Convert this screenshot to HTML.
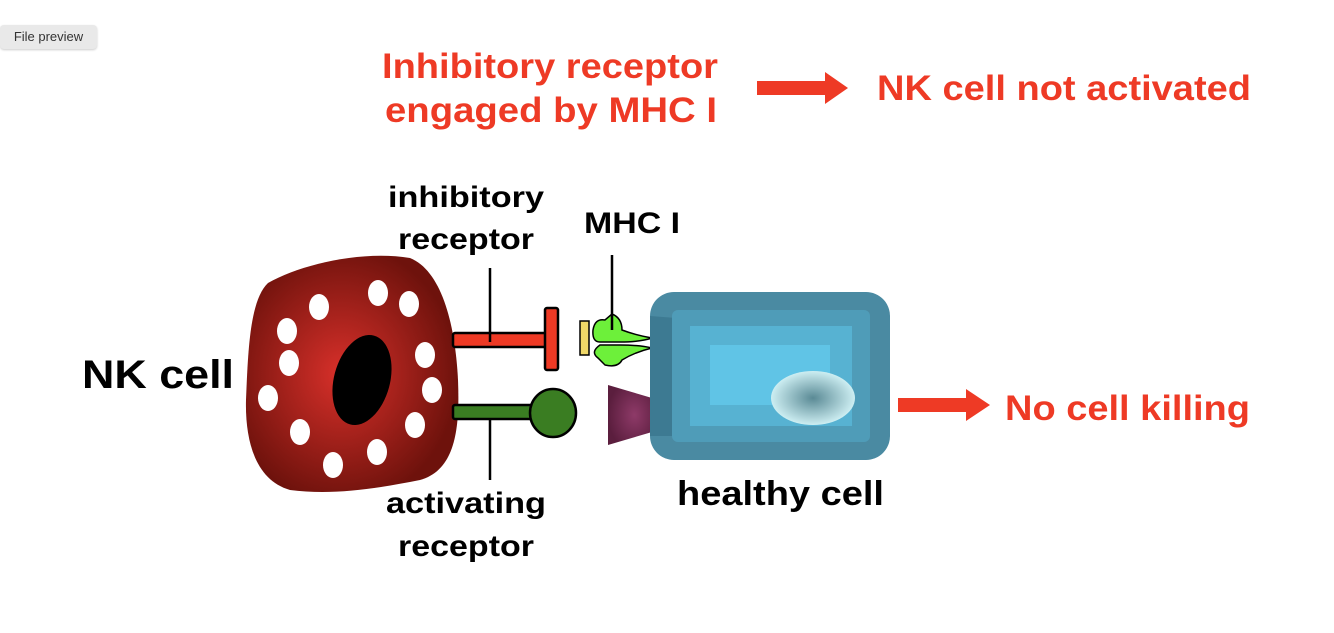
<!DOCTYPE html>
<html><head><meta charset="utf-8"><style>
html,body{margin:0;padding:0;background:#fff;}
body{width:1334px;height:633px;position:relative;overflow:hidden;font-family:"Liberation Sans",Arial,sans-serif;}
.btn{position:absolute;left:0;top:25px;width:97px;height:24px;background:#e9e9e9;border-radius:4px;font-size:13px;color:#333;line-height:24px;text-align:center;box-shadow:0 1px 2px rgba(0,0,0,.2);}
</style></head><body>
<div class="btn">File preview</div>
<svg width="1334" height="633" style="position:absolute;left:0;top:0" font-family="Liberation Sans, Arial, sans-serif" font-weight="bold">
<defs>
<radialGradient id="nk" cx="0.45" cy="0.5" r="0.55"><stop offset="0" stop-color="#d8302a"/><stop offset="1" stop-color="#6e120c"/></radialGradient>
<radialGradient id="nuc" cx="0.5" cy="0.5" r="0.5"><stop offset="0" stop-color="#5a8a95"/><stop offset="1" stop-color="#cdeef2"/></radialGradient>
<radialGradient id="pur" cx="0.6" cy="0.5" r="0.6"><stop offset="0" stop-color="#8e3a68"/><stop offset="1" stop-color="#5b1e3e"/></radialGradient>
</defs>
<g fill="#ee3a25" font-size="35">
<text x="382" y="78" textLength="336" lengthAdjust="spacingAndGlyphs">Inhibitory receptor</text>
<text x="385" y="122" textLength="332" lengthAdjust="spacingAndGlyphs">engaged by MHC I</text>
<text x="877" y="100" textLength="374" lengthAdjust="spacingAndGlyphs">NK cell not activated</text>
<text x="1005" y="420" textLength="245" lengthAdjust="spacingAndGlyphs">No cell killing</text>
</g>
<path d="M757 81 H825 V72 L848 88 L825 104 V95 H757 Z" fill="#ee3a25"/>
<path d="M898 398 H966 V389 L990 405 L966 421 V412 H898 Z" fill="#ee3a25"/>
<g fill="#000">
<text x="82" y="388" font-size="40" textLength="152" lengthAdjust="spacingAndGlyphs">NK cell</text>
<text x="388" y="207" font-size="30" textLength="156" lengthAdjust="spacingAndGlyphs">inhibitory</text>
<text x="398" y="249" font-size="30" textLength="136" lengthAdjust="spacingAndGlyphs">receptor</text>
<text x="584" y="233" font-size="30" textLength="96" lengthAdjust="spacingAndGlyphs">MHC I</text>
<text x="386" y="513" font-size="30" textLength="160" lengthAdjust="spacingAndGlyphs">activating</text>
<text x="398" y="556" font-size="30" textLength="136" lengthAdjust="spacingAndGlyphs">receptor</text>
<text x="677" y="505" font-size="34" textLength="207" lengthAdjust="spacingAndGlyphs">healthy cell</text>
</g>
<path d="M268 283 C300 265 360 250 410 258 C440 270 455 320 458 380 C460 430 455 470 420 480 C370 490 330 495 290 490 C255 480 245 440 246 400 C248 350 250 300 268 283 Z" fill="url(#nk)"/>
<ellipse cx="362" cy="380" rx="28" ry="46" transform="rotate(15 362 380)" fill="#000"/>
<g fill="#fff">
<ellipse cx="319" cy="307" rx="10" ry="13"/><ellipse cx="378" cy="293" rx="10" ry="13"/><ellipse cx="409" cy="304" rx="10" ry="13"/>
<ellipse cx="287" cy="331" rx="10" ry="13"/><ellipse cx="289" cy="363" rx="10" ry="13"/><ellipse cx="268" cy="398" rx="10" ry="13"/>
<ellipse cx="300" cy="432" rx="10" ry="13"/><ellipse cx="333" cy="465" rx="10" ry="13"/><ellipse cx="377" cy="452" rx="10" ry="13"/>
<ellipse cx="415" cy="425" rx="10" ry="13"/><ellipse cx="432" cy="390" rx="10" ry="13"/><ellipse cx="425" cy="355" rx="10" ry="13"/>
</g>
<rect x="453" y="333" width="94" height="14" rx="2" fill="#ee3a25" stroke="#000" stroke-width="2.5"/>
<rect x="545" y="308" width="13" height="62" rx="2" fill="#ee3a25" stroke="#000" stroke-width="2.5"/>
<rect x="453" y="405" width="80" height="14" rx="2" fill="#3a7d22" stroke="#000" stroke-width="2.5"/>
<ellipse cx="553" cy="413" rx="23" ry="24" fill="#3a7d22" stroke="#000" stroke-width="2.5"/>
<line x1="490" y1="268" x2="490" y2="342" stroke="#000" stroke-width="2.5"/>
<line x1="490" y1="418" x2="490" y2="480" stroke="#000" stroke-width="2.5"/>
<rect x="580" y="321" width="9" height="34" fill="#f0d868" stroke="#000" stroke-width="1.5"/>
<path d="M593 330 Q595 318 605 320 L612 314 Q622 318 622 330 Q635 335 652 338 Q640 342 620 342 L608 342 L600 342 Q592 342 593 330 Z" fill="#6df03a" stroke="#000" stroke-width="1.5"/>
<path d="M600 345 L620 345 Q640 345 652 348 Q635 352 622 360 Q618 368 605 365 L598 358 Q590 352 600 345 Z" fill="#6df03a" stroke="#000" stroke-width="1.5"/>
<line x1="612" y1="255" x2="612" y2="330" stroke="#000" stroke-width="2.5"/>
<path d="M608 385 L652 398 L652 432 L608 445 Z" fill="url(#pur)"/>
<rect x="650" y="292" width="240" height="168" rx="24" fill="#4a8aa2"/>
<path d="M650 316 L676 318 L676 436 L650 436 Z" fill="#3d7a92"/>
<rect x="672" y="310" width="198" height="132" rx="6" fill="#4f9cb8"/>
<rect x="690" y="326" width="162" height="100" fill="#57b2d2"/>
<rect x="710" y="345" width="120" height="60" fill="#60c4e6"/>
<ellipse cx="813" cy="398" rx="42" ry="27" fill="url(#nuc)"/>
</svg>
</body></html>
